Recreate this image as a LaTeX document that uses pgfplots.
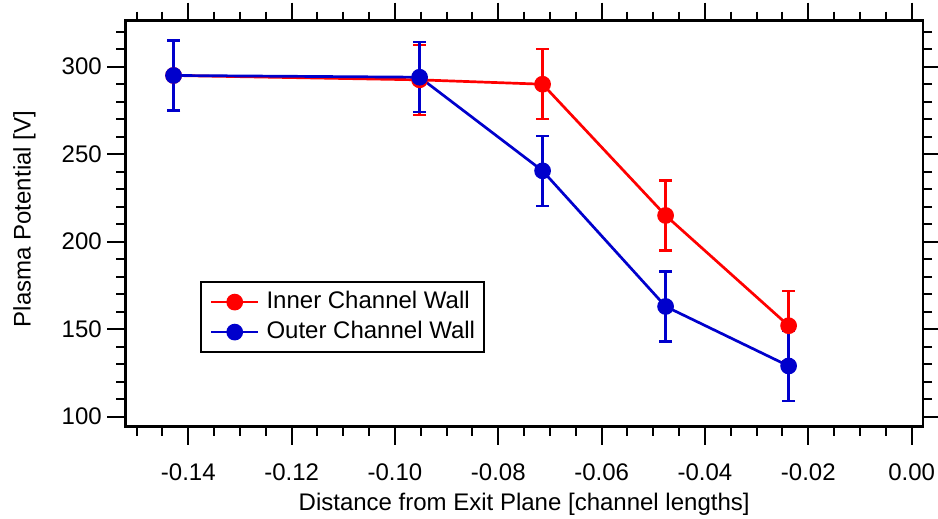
\documentclass[border=0pt]{standalone}
\usepackage{pgfplots}
\pgfplotsset{compat=1.18}
\usepackage{fontspec}
\setmainfont{Liberation Sans}
\definecolor{wallred}{RGB}{255,0,0}
\definecolor{wallblue}{RGB}{0,0,204}

\pgfplotstableread{
x          y      e
-0.142857  295.0  20
-0.095238  292.5  20
-0.071429  290.0  20
-0.047619  215.0  20
-0.023810  152.0  20
}\innerwall
\pgfplotstableread{
x          y      e
-0.142857  295.0  20
-0.095238  294.0  20
-0.071429  240.5  20
-0.047619  163.0  20
-0.023810  129.0  20
}\outerwall

\begin{document}
\begin{tikzpicture}
\useasboundingbox (-125.3pt,-92.3pt) rectangle (812.7pt,426.7pt);
\begin{axis}[
  scale only axis, width=797.7pt, height=406pt,
  xmin=-0.1522, xmax=0.0022, ymin=94.3, ymax=326.3,
  xtick={-0.14,-0.12,-0.10,-0.08,-0.06,-0.04,-0.02,0},
  xticklabels={-0.14,-0.12,-0.10,-0.08,-0.06,-0.04,-0.02,0.00},
  minor xtick={-0.15,-0.145,...,0},
  ytick={100,150,200,250,300},
  minor ytick={100,110,...,320},
  tick align=outside,
  major tick length=18pt, minor tick length=9pt,
  every tick/.style={black, line width=2pt},
  axis line style={line width=2.5pt},
  font=\fontsize{24}{28}\selectfont,
  /pgf/number format/assume math mode=true,
  xticklabel style={yshift=-16pt},
  yticklabel style={xshift=-2pt},
  xlabel={Distance from Exit Plane [channel lengths]},
  ylabel={Plasma Potential [V]},
  xlabel style={at={(axis description cs:0.5,-0.2069)}, anchor=base, inner sep=0pt},
  ylabel style={at={(axis description cs:-0.1186,0.5116)}, anchor=base, inner sep=0pt},
  legend style={at={(0.0936,0.1815)}, anchor=south west, draw=black,
    line width=1.8pt, font=\fontsize{24}{28}\selectfont,
    inner xsep=9pt, inner ysep=9pt, row sep=8pt, column sep=0pt,
    nodes={inner sep=0pt, text height=17pt, text depth=5pt}},
  legend cell align=left,
  legend image code/.code={%
    \draw[mark repeat=2, mark phase=2, #1]
      plot coordinates {(0pt,0pt) (23.5pt,0pt) (47pt,0pt)};
    \path (54pt,0pt);},
]
\addplot[color=wallred, line width=2.7pt, mark=*, mark size=7pt,
  mark options={solid, fill=wallred},
  error bars/.cd, y dir=both, y explicit,
  error bar style={line width=2.4pt},
  error mark options={rotate=90, mark size=6.5pt, line width=2.4pt}]
  table[x=x, y=y, y error=e] {\innerwall};
\addlegendentry{Inner Channel Wall}
\addplot[color=wallblue, line width=2.7pt, mark=*, mark size=7pt,
  mark options={solid, fill=wallblue},
  error bars/.cd, y dir=both, y explicit,
  error bar style={line width=2.4pt},
  error mark options={rotate=90, mark size=6.5pt, line width=2.4pt}]
  table[x=x, y=y, y error=e] {\outerwall};
\addlegendentry{Outer Channel Wall}
\end{axis}
\end{tikzpicture}
\end{document}
